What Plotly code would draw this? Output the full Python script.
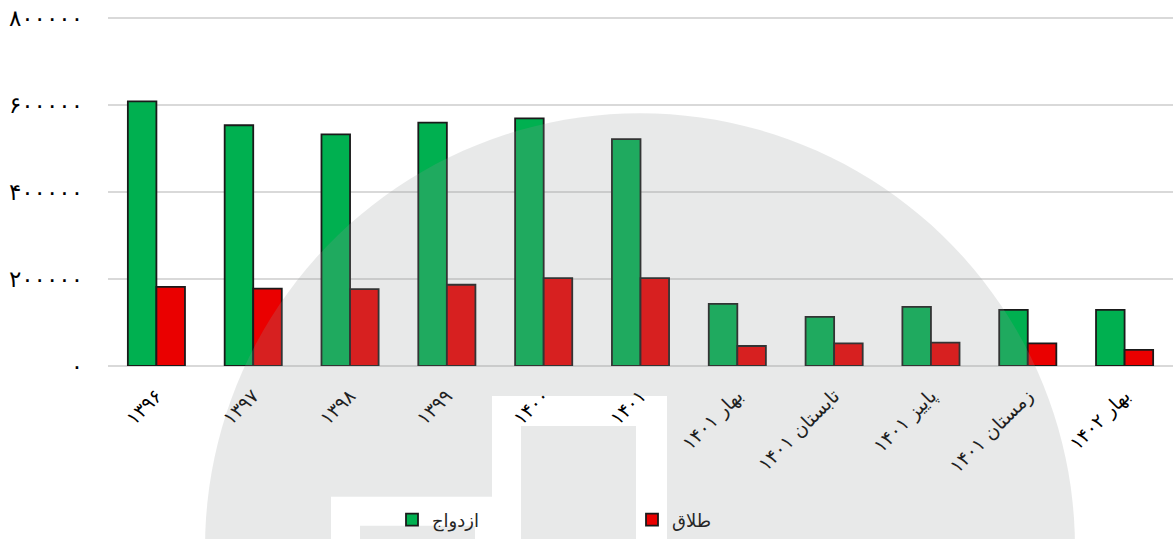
import math
import plotly.graph_objects as go

# ---------------- data ----------------
categories = ["۱۳۹۶", "۱۳۹۷", "۱۳۹۸", "۱۳۹۹", "۱۴۰۰", "۱۴۰۱",
              "بهار ۱۴۰۱", "تابستان ۱۴۰۱", "پاییز ۱۴۰۱", "زمستان ۱۴۰۱", "بهار ۱۴۰۲"]
marriage = [609000, 554000, 533000, 560000, 570000, 522000,
            143000, 113000, 136000, 129000, 129000]
divorce = [182000, 178000, 177000, 187000, 202000, 202000,
           46000, 52000, 54000, 52000, 37000]
y_tickvals = [0, 200000, 400000, 600000, 800000]
y_ticktext = ["۰", "۲۰۰۰۰۰", "۴۰۰۰۰۰", "۶۰۰۰۰۰", "۸۰۰۰۰۰"]
series_names = ["ازدواج", "طلاق"]

# ---------------- layout geometry ----------------
W, H = 1173, 539
Y_MAX = 810000
Y0_PX, YTOP_PX = 366, 18          # pixel rows of 0 and of 800000
PH = (Y0_PX - YTOP_PX) * Y_MAX / 800000
ML = 108
MT = Y0_PX - PH
MB = H - Y0_PX
MR = 0
PW = W - ML - MR

def px2x(px):
    return (px - ML) / PW

def px2y(py):
    return (Y0_PX - py) / PH

FONT = "DejaVu Sans"

fig = go.Figure()
fig.add_trace(go.Bar(
    x=categories, y=marriage, name=series_names[0],
    marker=dict(color="#00B050", line=dict(color="#1a1a1a", width=1.8)),
))
fig.add_trace(go.Bar(
    x=categories, y=divorce, name=series_names[1],
    marker=dict(color="#EA0000", line=dict(color="#1a1a1a", width=1.8)),
))

# ---------------- watermark (decorative) ----------------
cx, cy, r = 640, 548, 435
pts = []
for i in range(181):
    a = 2 * math.pi * i / 180
    pts.append((cx + r * math.cos(a), cy + r * math.sin(a)))
path = "M " + " L ".join(f"{px2x(x):.5f},{px2y(y):.5f}" for x, y in pts) + " Z"

def poly(points):
    return " M " + " L ".join(f"{px2x(x):.5f},{px2y(y):.5f}" for x, y in points) + " Z"

bottom = 560
path += poly([(331, 497), (492, 497), (492, 396), (667, 396), (667, bottom), (331, bottom)])
path += poly([(521, 426), (636, 426), (636, bottom), (521, bottom)])
path += poly([(360, 526), (475, 526), (475, bottom), (360, bottom)])

fig.add_shape(type="path", path=path, xref="paper", yref="paper",
              fillcolor="rgba(145,152,150,0.21)", line=dict(width=0),
              layer="above", fillrule="evenodd")

fig.update_layout(
    width=W, height=H,
    margin=dict(l=ML, r=MR, t=MT, b=MB, pad=0, autoexpand=False),
    paper_bgcolor="white", plot_bgcolor="white",
    barmode="group", bargap=0.41, bargroupgap=0,
    font=dict(family=FONT, color="black", size=17),
    showlegend=True,
    legend=dict(
        orientation="h", x=px2x(392), xanchor="left",
        y=px2y(520), yanchor="middle",
        entrywidth=195, entrywidthmode="pixels",
        font=dict(family=FONT, size=18, color="#262626"),
        bgcolor="rgba(0,0,0,0)", traceorder="normal",
    ),
)
fig.update_xaxes(
    type="category", tickangle=-45, showgrid=False, showline=False,
    ticks="", ticklabelstandoff=14,
    tickfont=dict(family=FONT, size=19, color="black"),
)
fig.update_yaxes(
    range=[0, Y_MAX], tickvals=y_tickvals, ticktext=y_ticktext,
    showgrid=True, gridcolor="#d9d9d9", gridwidth=2,
    zeroline=True, zerolinecolor="#d9d9d9", zerolinewidth=2,
    showline=False, ticks="", ticklabelstandoff=24,
    tickfont=dict(family=FONT, size=23, color="black"),
)

fig.write_html(
    "out.html",
    config={"displayModeBar": False},
    post_script="document.body.style.margin='0';document.body.style.overflow='hidden';",
)
